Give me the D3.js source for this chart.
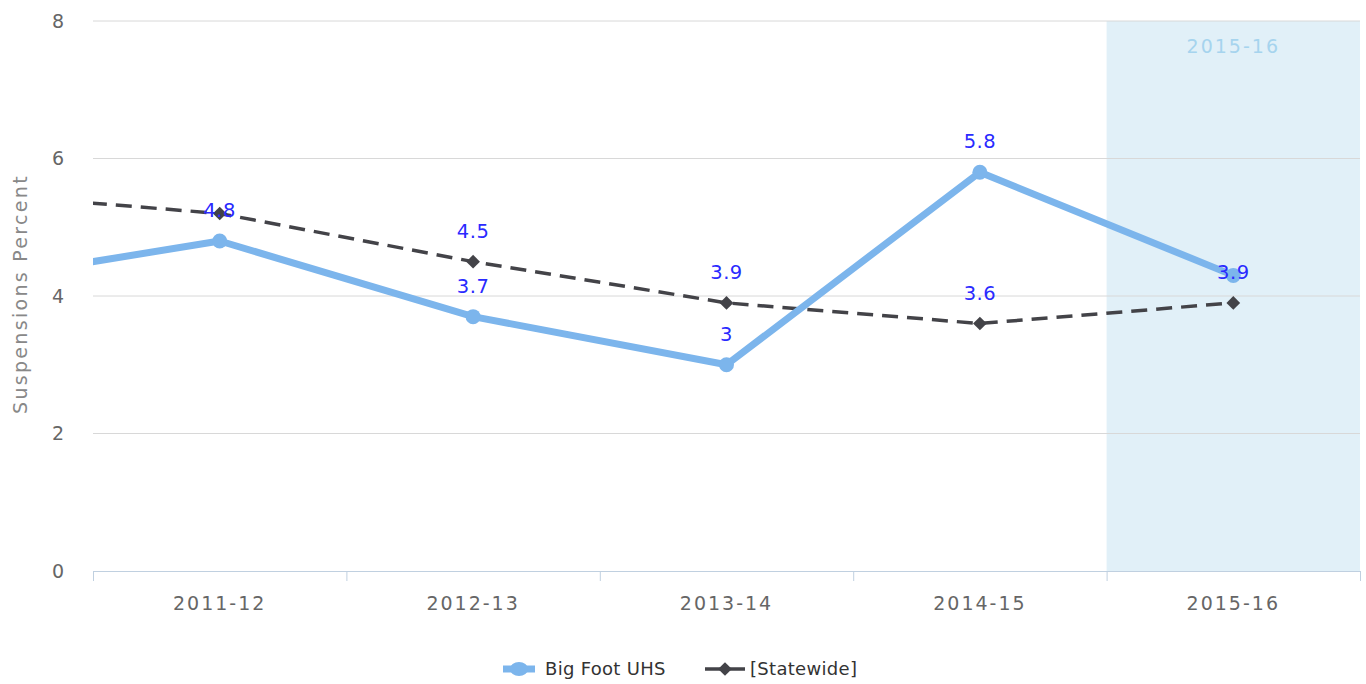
<!DOCTYPE html>
<html>
<head>
<meta charset="utf-8">
<script src="https://cdn.jsdelivr.net/npm/d3@7"></script>
<style>
  body { margin: 0; background: #fff; font-family: "DejaVu Sans", Verdana, sans-serif; }
  svg text { font-family: "DejaVu Sans", Verdana, sans-serif; }
</style>
</head>
<body>
<div id="chart"></div>
<script>
// categories (first one sits left of the visible range, only its line segment shows)
var years = ["2010-11", "2011-12", "2012-13", "2013-14", "2014-15", "2015-16"];
var bigFoot = [4.2, 4.8, 3.7, 3.0, 5.8, 4.3];
var statewide = [5.5, 5.2, 4.5, 3.9, 3.6, 3.9];
// which data labels are drawn (others hidden for overlap in the original)
var bigFootLabelShown = [false, true, true, true, true, false];
var statewideLabelShown = [false, false, true, true, true, true];
var yTicks = [0, 2, 4, 6, 8];
var highlightYear = "2015-16";

var W = 1366, H = 684;
var margin = {top: 21, right: 6, bottom: 113, left: 93},
    width = W - margin.left - margin.right,
    height = H - margin.top - margin.bottom;

var svg = d3.select("#chart")
  .append("svg")
    .attr("width", W)
    .attr("height", H);

var g = svg.append("g")
    .attr("transform", "translate(" + margin.left + "," + margin.top + ")");

var x = d3.scaleLinear()
  .domain([0.5, years.length - 0.5])
  .range([0, width]);

var y = d3.scaleLinear()
  .domain([0, 8])
  .range([height, 0]);

g.append("clipPath").attr("id", "plotClip")
  .append("rect").attr("x", 0).attr("y", -10).attr("width", width).attr("height", height + 20);

// plot band behind the highlighted year
var hi = years.indexOf(highlightYear);
g.append("rect")
  .attr("x", x(hi - 0.5))
  .attr("y", 0)
  .attr("width", x(hi + 0.5) - x(hi - 0.5))
  .attr("height", height)
  .attr("fill", "#e1f0f8");

g.append("text")
  .attr("x", x(hi))
  .attr("y", 32)
  .attr("text-anchor", "middle")
  .attr("fill", "#a6d4ee")
  .style("font-size", "19px")
  .style("letter-spacing", "2px")
  .text(highlightYear);

// grid lines
g.append("g")
  .selectAll("line")
  .data(yTicks.filter(function (d) { return d > 0; }))
  .enter()
  .append("line")
    .attr("x1", 0)
    .attr("x2", width)
    .attr("y1", function (d) { return y(d); })
    .attr("y2", function (d) { return y(d); })
    .attr("stroke", "#d8d8d8")
    .attr("stroke-width", 1);

// Y axis
var yAxis = g.append("g")
  .call(d3.axisLeft(y).tickValues(yTicks).tickSize(0).tickPadding(29));
yAxis.select(".domain").remove();
yAxis.selectAll("text")
  .attr("fill", "#666")
  .style("font-size", "19px");

// X axis
var xAxis = g.append("g")
  .attr("transform", "translate(0," + height + ")")
  .call(d3.axisBottom(x)
    .tickValues(d3.range(0.5, years.length, 1))
    .tickFormat("")
    .tickSize(10)
    .tickSizeOuter(0));
xAxis.select(".domain").attr("stroke", "#c0d0e0");
xAxis.selectAll(".tick line").attr("stroke", "#c0d0e0");

g.append("g")
  .selectAll("text")
  .data(years.slice(1))
  .enter()
  .append("text")
    .attr("x", function (d) { return x(years.indexOf(d)); })
    .attr("y", height + 39)
    .attr("text-anchor", "middle")
    .attr("fill", "#666")
    .style("font-size", "19px")
    .style("letter-spacing", "2px")
    .text(function (d) { return d; });

// Y label
svg.append("text")
  .attr("transform", "rotate(-90)")
  .attr("x", -(margin.top + height / 2) + 2)
  .attr("y", 27)
  .attr("text-anchor", "middle")
  .attr("fill", "#888")
  .style("font-size", "19px")
  .style("letter-spacing", "2.3px")
  .text("Suspensions Percent");

var line = d3.line()
  .x(function (d, i) { return x(i); })
  .y(function (d) { return y(d); });

var plot = g.append("g").attr("clip-path", "url(#plotClip)");

// statewide dashed line
plot.append("path")
  .datum(statewide)
  .attr("d", line)
  .attr("fill", "none")
  .attr("stroke", "#434348")
  .attr("stroke-width", 3.5)
  .attr("stroke-dasharray", "16,9");

// Big Foot line
plot.append("path")
  .datum(bigFoot)
  .attr("d", line)
  .attr("fill", "none")
  .attr("stroke", "#7cb5ec")
  .attr("stroke-width", 7)
  .attr("stroke-linejoin", "round");

plot.append("g")
  .selectAll("circle")
  .data(bigFoot)
  .enter()
  .append("circle")
    .attr("cx", function (d, i) { return x(i); })
    .attr("cy", function (d) { return y(d); })
    .attr("r", 7.5)
    .attr("fill", "#7cb5ec");

plot.append("g")
  .selectAll("path")
  .data(statewide)
  .enter()
  .append("path")
    .attr("d", d3.symbol().type(d3.symbolDiamond2).size(120))
    .attr("transform", function (d, i) { return "translate(" + x(i) + "," + y(d) + ")"; })
    .attr("fill", "#434348");

// data labels
function addLabels(vals, shown) {
  g.append("g")
    .selectAll("text")
    .data(vals.map(function (v, i) { return {v: v, i: i}; }).filter(function (d) { return shown[d.i]; }))
    .enter()
    .append("text")
      .attr("x", function (d) { return x(d.i); })
      .attr("y", function (d) { return y(d.v) - 24; })
      .attr("text-anchor", "middle")
      .attr("fill", "#2a2aff")
      .style("font-size", "19.5px")
      .style("letter-spacing", "0.5px")
      .text(function (d) { return d3.format("~g")(d.v); });
}
addLabels(bigFoot, bigFootLabelShown);
addLabels(statewide, statewideLabelShown);

// legend
var legend = svg.append("g").attr("transform", "translate(0,669)");
legend.append("line")
  .attr("x1", 503).attr("x2", 535).attr("y1", 0).attr("y2", 0)
  .attr("stroke", "#7cb5ec").attr("stroke-width", 7);
legend.append("ellipse")
  .attr("cx", 519).attr("cy", 0).attr("rx", 9).attr("ry", 7).attr("fill", "#7cb5ec");
legend.append("text")
  .attr("x", 545).attr("y", 6)
  .attr("fill", "#333")
  .style("font-size", "18px")
  .style("letter-spacing", "0.3px")
  .text("Big Foot UHS");

legend.append("line")
  .attr("x1", 705).attr("x2", 745).attr("y1", 0).attr("y2", 0)
  .attr("stroke", "#434348").attr("stroke-width", 3.5)
  .attr("stroke-dasharray", "16,9");
legend.append("path")
  .attr("d", d3.symbol().type(d3.symbolDiamond2).size(120))
  .attr("transform", "translate(725,0)")
  .attr("fill", "#434348");
legend.append("text")
  .attr("x", 750).attr("y", 6)
  .attr("fill", "#333")
  .style("font-size", "18px")
  .style("letter-spacing", "0.3px")
  .text("[Statewide]");
</script>
</body>
</html>
